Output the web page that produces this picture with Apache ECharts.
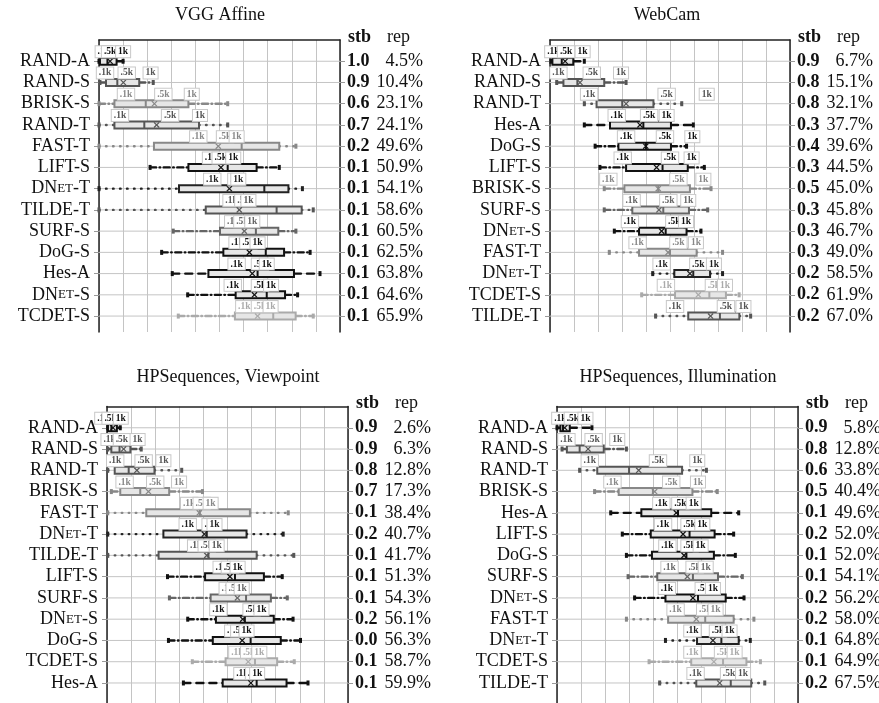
<!DOCTYPE html>
<html>
<head>
<meta charset="utf-8">
<script src="https://cdn.jsdelivr.net/npm/echarts@6/dist/echarts.min.js"></script>
<style>
  html, body { margin: 0; padding: 0; background: #fff; }
  #chart { width: 879px; height: 703px; }
</style>
</head>
<body>
<div id="chart"></div>
<script>
// ---- data (x in grid units 0..10) ----
// box rows: [min, q1, median, q3, max, mean]; tag rows: [.1k, .5k, 1k]
const vggNames = ['RAND-A', 'RAND-S', 'BRISK-S', 'RAND-T', 'FAST-T', 'LIFT-S', 'DNet-T', 'TILDE-T', 'SURF-S', 'DoG-S', 'Hes-A', 'DNet-S', 'TCDET-S'];
const vggStb = [1.0, 0.9, 0.6, 0.7, 0.2, 0.1, 0.1, 0.1, 0.1, 0.1, 0.1, 0.1, 0.1];
const vggRep = [4.5, 10.4, 23.1, 24.1, 49.6, 50.9, 54.1, 58.6, 60.5, 62.5, 63.8, 64.6, 65.9];
const vggBox = [
  [0.0, 0.04, 0.35, 0.73, 1.0, 0.46],
  [0.04, 0.29, 0.76, 1.67, 2.25, 1.01],
  [0.0, 0.64, 1.94, 3.71, 5.34, 2.30],
  [0.0, 0.64, 1.88, 4.15, 5.34, 2.39],
  [0.0, 2.28, 5.92, 7.48, 8.17, 4.95],
  [2.12, 3.71, 5.34, 6.54, 7.48, 5.06],
  [0.0, 3.32, 6.86, 7.86, 8.44, 5.41],
  [0.0, 4.43, 7.37, 8.41, 8.89, 5.82],
  [3.08, 5.02, 6.51, 7.44, 8.17, 6.03],
  [2.60, 5.16, 6.92, 7.68, 8.76, 6.24],
  [3.04, 4.54, 6.58, 8.09, 9.17, 6.36],
  [3.68, 5.67, 6.96, 7.72, 8.24, 6.45],
  [3.29, 5.64, 7.23, 8.16, 8.89, 6.58]
];
const vggTags = [
  [0.2, 0.46, 1.0], [0.25, 1.15, 2.14], [1.12, 2.67, 3.85], [0.87, 2.95, 4.19],
  [4.12, 5.23, 5.71], [4.65, 5.05, 5.57], [4.70, 5.70, 5.78], [5.5, 5.99, 6.2],
  [5.57, 5.95, 6.36], [5.75, 6.2, 6.58], [5.71, 6.68, 6.96], [5.55, 6.68, 7.14],
  [6.03, 6.68, 7.12]
];

const camNames = ['RAND-A', 'RAND-S', 'RAND-T', 'Hes-A', 'DoG-S', 'LIFT-S', 'BRISK-S', 'SURF-S', 'DNet-S', 'FAST-T', 'DNet-T', 'TCDET-S', 'TILDE-T'];
const camStb = [0.9, 0.8, 0.8, 0.3, 0.4, 0.3, 0.5, 0.3, 0.3, 0.3, 0.2, 0.2, 0.2];
const camRep = [6.7, 15.1, 32.1, 37.7, 39.6, 44.5, 45.0, 45.8, 46.7, 49.0, 58.5, 61.9, 67.0];
const camBox = [
  [0.04, 0.10, 0.49, 0.97, 1.43, 0.63],
  [0.28, 0.56, 1.14, 2.26, 3.17, 1.25],
  [1.43, 1.94, 3.01, 4.31, 5.49, 3.17],
  [1.43, 2.50, 3.89, 5.04, 5.97, 3.75],
  [1.88, 2.85, 4.0, 5.04, 5.69, 3.99],
  [2.08, 3.17, 4.69, 5.74, 6.43, 4.44],
  [2.26, 3.10, 4.51, 5.83, 6.71, 4.51],
  [2.26, 3.43, 4.72, 5.79, 6.57, 4.54],
  [2.68, 3.71, 4.82, 5.69, 6.29, 4.65],
  [2.47, 3.71, 5.0, 6.11, 7.19, 4.92],
  [4.28, 5.18, 5.97, 6.67, 7.19, 5.83],
  [3.82, 5.21, 6.64, 7.33, 7.88, 6.18],
  [4.40, 5.76, 7.08, 7.89, 8.36, 6.69]
];
const camTags = [
  [0.14, 0.67, 1.36], [0.35, 1.74, 2.96], [1.63, 4.86, 6.53], [2.78, 4.13, 4.86],
  [3.17, 4.79, 5.93], [3.03, 5.0, 5.90], [2.43, 5.35, 6.39], [3.40, 4.93, 5.76],
  [3.33, 5.18, 5.67], [3.65, 5.35, 6.08], [4.65, 6.18, 6.83], [4.83, 6.83, 7.29],
  [5.21, 7.33, 8.06]
];

const vpNames = ['RAND-A', 'RAND-S', 'RAND-T', 'BRISK-S', 'FAST-T', 'DNet-T', 'TILDE-T', 'LIFT-S', 'SURF-S', 'DNet-S', 'DoG-S', 'TCDET-S', 'Hes-A'];
const vpStb = [0.9, 0.9, 0.8, 0.7, 0.1, 0.2, 0.1, 0.1, 0.1, 0.2, 0.0, 0.1, 0.1];
const vpRep = [2.6, 6.3, 12.8, 17.3, 38.4, 40.7, 41.7, 51.3, 54.3, 56.1, 56.3, 58.7, 59.9];
const vpBox = [
  [0.03, 0.04, 0.18, 0.41, 0.55, 0.25],
  [0.03, 0.18, 0.52, 0.97, 1.42, 0.69],
  [0.03, 0.32, 0.90, 1.97, 3.10, 1.24],
  [0.18, 0.55, 1.38, 2.58, 3.96, 1.72],
  [0.03, 1.63, 3.85, 5.93, 7.52, 3.83],
  [0.03, 2.34, 4.14, 5.79, 7.31, 4.04],
  [0.03, 2.14, 4.21, 6.21, 7.75, 4.14],
  [2.51, 4.07, 5.31, 6.51, 7.27, 5.10],
  [2.59, 4.30, 5.77, 6.80, 7.48, 5.41],
  [3.35, 4.52, 5.72, 6.92, 7.72, 5.63],
  [2.55, 4.39, 5.96, 7.21, 8.03, 5.61],
  [3.54, 4.92, 6.14, 7.06, 7.77, 5.86],
  [3.17, 4.80, 6.21, 7.45, 8.34, 5.97]
];
const vpTags = [
  [-0.15, 0.15, 0.57], [0.11, 0.62, 1.27], [0.34, 1.52, 2.34], [0.73, 2.0, 2.99],
  [3.41, 3.93, 4.3], [3.35, 4.3, 4.46], [3.70, 4.14, 4.55], [4.76, 5.1, 5.42],
  [5.01, 5.3, 5.59], [4.62, 6.0, 6.41], [5.24, 5.49, 5.79], [5.41, 5.9, 6.32],
  [5.62, 6.1, 6.23]
];

const ilNames = ['RAND-A', 'RAND-S', 'RAND-T', 'BRISK-S', 'Hes-A', 'LIFT-S', 'DoG-S', 'SURF-S', 'DNet-S', 'FAST-T', 'DNet-T', 'TCDET-S', 'TILDE-T'];
const ilStb = [0.9, 0.8, 0.6, 0.5, 0.1, 0.2, 0.1, 0.1, 0.2, 0.2, 0.1, 0.1, 0.2];
const ilRep = [5.8, 12.8, 33.8, 40.4, 49.6, 52.0, 52.0, 54.1, 56.2, 58.0, 64.8, 64.9, 67.5];
const ilBox = [
  [0.0, 0.14, 0.25, 0.53, 1.45, 0.32],
  [0.21, 0.41, 0.94, 1.94, 2.88, 1.29],
  [0.94, 1.67, 2.99, 5.19, 6.20, 3.39],
  [1.56, 2.56, 3.98, 5.62, 6.65, 4.05],
  [2.23, 3.50, 5.02, 6.40, 7.54, 4.95],
  [2.71, 3.89, 5.50, 6.54, 7.33, 5.23],
  [2.88, 3.94, 5.37, 6.51, 7.40, 5.27],
  [2.95, 4.16, 5.64, 6.68, 7.69, 5.41],
  [3.22, 4.50, 5.85, 7.0, 7.76, 5.64],
  [2.88, 4.61, 6.15, 7.33, 8.17, 5.78],
  [4.50, 5.81, 6.82, 7.54, 8.02, 6.47],
  [3.82, 5.57, 6.89, 7.86, 8.44, 6.51],
  [4.26, 5.78, 7.21, 8.06, 8.62, 6.75]
];
const ilTags = [
  [0.14, 0.66, 1.18], [0.39, 1.52, 2.50], [1.36, 4.19, 5.82], [2.30, 4.74, 5.85],
  [4.33, 5.12, 5.67], [4.40, 5.50, 6.03], [4.58, 5.50, 5.96], [4.67, 5.71, 6.17],
  [4.56, 6.09, 6.47], [4.92, 6.15, 6.58], [5.62, 6.68, 7.16], [5.62, 6.89, 7.37],
  [5.75, 7.14, 7.72]
];

const tagLabels = ['.1k', '.5k', '1k'];
const panelTitles = ['VGG Affine', 'WebCam', 'HPSequences, Viewpoint', 'HPSequences, Illumination'];

// ---- styling ----
const SERIF = '"Liberation Serif", "DejaVu Serif", serif';
const shade = {
  'RAND-A': '#111', 'RAND-S': '#555', 'RAND-T': '#555', 'BRISK-S': '#888',
  'FAST-T': '#888', 'LIFT-S': '#111', 'DNet-T': '#222', 'TILDE-T': '#555',
  'SURF-S': '#666', 'DoG-S': '#111', 'Hes-A': '#111', 'DNet-S': '#111', 'TCDET-S': '#aaa'
};
// whisker pattern by suffix: -T dotted, -S dash-dot, -A dashed
const whiskerDash = { T: [0.6, 6.4], S: [6, 3.5, 0.6, 3.5], A: [7, 6] };

const panels = [
  { names: vggNames, stb: vggStb, rep: vggRep, box: vggBox, tags: vggTags },
  { names: camNames, stb: camStb, rep: camRep, box: camBox, tags: camTags },
  { names: vpNames, stb: vpStb, rep: vpRep, box: vpBox, tags: vpTags },
  { names: ilNames, stb: ilStb, rep: ilRep, box: ilBox, tags: ilTags }
];

const layout = [
  { left: 99, top: 40, width: 241, height: 292, yMax: 12.75, titleX: 220, titleY: 15 },
  { left: 550, top: 40, width: 240, height: 292, yMax: 12.75, titleX: 667, titleY: 15 },
  { left: 107, top: 406.5, width: 241, height: 302, yMax: 13.2, titleX: 228, titleY: 377 },
  { left: 557, top: 406.5, width: 241, height: 302, yMax: 13.2, titleX: 678, titleY: 377 }
];

const gridColor = '#c4c4c4';
const frameColor = '#222';

function methodLabel(name) {
  return name.replace('DNet', 'DN{sc|ET}');
}

function makeRenderer(names) {
  return function (params, api) {
    const row = api.value(0);
    const name = names[row];
    const col = shade[name];
    const dash = whiskerDash[name.slice(-1)];
    const px = (v) => api.coord([v, row])[0];
    const cy = api.coord([0, row])[1];
    const xMin = px(api.value(1)), xQ1 = px(api.value(2)), xMed = px(api.value(3));
    const xQ3 = px(api.value(4)), xMax = px(api.value(5)), xMean = px(api.value(6));
    const hh = 3.5;
    const kids = [];
    // row grid line across the plot
    kids.push({ type: 'line', shape: { x1: px(0), y1: cy, x2: px(10), y2: cy }, style: { stroke: gridColor, lineWidth: 1 } });
    const wStyle = { stroke: col, lineWidth: 2.4, lineDash: dash, lineCap: 'round' };
    kids.push({ type: 'line', shape: { x1: xMin, y1: cy, x2: xQ1, y2: cy }, style: wStyle });
    kids.push({ type: 'line', shape: { x1: xQ3, y1: cy, x2: xMax, y2: cy }, style: wStyle });
    kids.push({ type: 'rect', shape: { x: xMin - 1.5, y: cy - 2.5, width: 3, height: 5 }, style: { fill: col } });
    kids.push({ type: 'rect', shape: { x: xMax - 1.5, y: cy - 2.5, width: 3, height: 5 }, style: { fill: col } });
    kids.push({ type: 'rect', shape: { x: xQ1, y: cy - hh, width: xQ3 - xQ1, height: hh * 2 },
      style: { fill: '#e6e6e6', stroke: col, lineWidth: 2 } });
    kids.push({ type: 'line', shape: { x1: xMed, y1: cy - hh, x2: xMed, y2: cy + hh }, style: { stroke: col, lineWidth: 2 } });
    const m = 2.6;
    kids.push({ type: 'line', shape: { x1: xMean - m, y1: cy - m, x2: xMean + m, y2: cy + m }, style: { stroke: col, lineWidth: 1.2 } });
    kids.push({ type: 'line', shape: { x1: xMean - m, y1: cy + m, x2: xMean + m, y2: cy - m }, style: { stroke: col, lineWidth: 1.2 } });
    tagLabels.forEach((t, k) => {
      kids.push({
        type: 'text', x: px(api.value(7 + k)), y: cy - 9.5,
        style: {
          text: t, fill: col, font: 'bold 9.5px ' + SERIF, align: 'center', verticalAlign: 'middle',
          backgroundColor: '#fff', borderColor: '#c8c8c8', borderWidth: 1, padding: [1, 2, 0, 2]
        }
      });
    });
    return { type: 'group', children: kids };
  };
}

const grid = [], xAxis = [], yAxis = [], series = [], graphic = [];

panels.forEach((p, i) => {
  const L = layout[i];
  const rows = p.names.map((_, k) => k);
  grid.push({ left: L.left, top: L.top, width: L.width, height: L.height, outerBoundsMode: 'none', containLabel: false });
  xAxis.push({
    gridIndex: i, type: 'value', position: 'top', min: 0, max: 10, interval: 1,
    axisLine: { show: true, onZero: false, lineStyle: { color: frameColor, width: 1.5 } },
    axisTick: { show: false }, axisLabel: { show: false },
    splitLine: { show: true, lineStyle: { color: gridColor, width: 1 } }
  });
  yAxis.push({
    gridIndex: i, type: 'value', inverse: true, min: -1, max: L.yMax, interval: 1,
    axisLine: { show: true, onZero: false, lineStyle: { color: frameColor, width: 1.5 } },
    axisTick: { show: true, length: 5, customValues: rows, lineStyle: { color: '#999' } },
    splitLine: { show: false },
    axisLabel: {
      margin: 9, fontSize: 18, fontFamily: SERIF, color: '#111',
      formatter: (v) => (Number.isInteger(v) && p.names[v]) ? methodLabel(p.names[v]) : '',
      rich: { sc: { fontSize: 13, fontFamily: SERIF, color: '#111' } }
    }
  });
  yAxis.push({
    gridIndex: i, type: 'value', position: 'right', inverse: true, min: -1, max: L.yMax, interval: 1,
    axisLine: { show: true, onZero: false, lineStyle: { color: frameColor, width: 1.5 } },
    axisTick: { show: true, length: 5, customValues: rows, lineStyle: { color: '#999' } },
    splitLine: { show: false },
    axisLabel: {
      margin: 7, fontSize: 18, fontFamily: SERIF, color: '#111', align: 'left',
      formatter: (v) => (Number.isInteger(v) && p.names[v])
        ? '{s|' + p.stb[v].toFixed(1) + '}{r|' + p.rep[v].toFixed(1) + '%}' : '',
      rich: {
        s: { fontWeight: 'bold', fontSize: 18, fontFamily: SERIF, color: '#111', width: 28 },
        r: { fontSize: 18, fontFamily: SERIF, color: '#111', width: 48, align: 'right' }
      }
    }
  });
  series.push({
    type: 'custom', xAxisIndex: i, yAxisIndex: i * 2,
    renderItem: makeRenderer(p.names),
    encode: { x: [1, 2, 3, 4, 5], y: 0 },
    data: p.box.map((b, r) => [r].concat(b, p.tags[r]))
  });
  graphic.push({
    type: 'text', x: L.titleX, y: L.titleY,
    style: { text: panelTitles[i], fill: '#111', font: '18px ' + SERIF, align: 'center', verticalAlign: 'middle' }
  });
  graphic.push({
    type: 'text', x: L.left + L.width + 8, y: L.top - 3,
    style: {
      text: '{s|stb}{r|rep}', fill: '#111', verticalAlign: 'middle',
      rich: {
        s: { fontWeight: 'bold', fontSize: 18, fontFamily: SERIF, width: 39 },
        r: { fontSize: 18, fontFamily: SERIF }
      }
    }
  });
});

const chart = echarts.init(document.getElementById('chart'));
chart.setOption({
  animation: false,
  backgroundColor: '#fff',
  grid, xAxis, yAxis, series, graphic
});
</script>
</body>
</html>
